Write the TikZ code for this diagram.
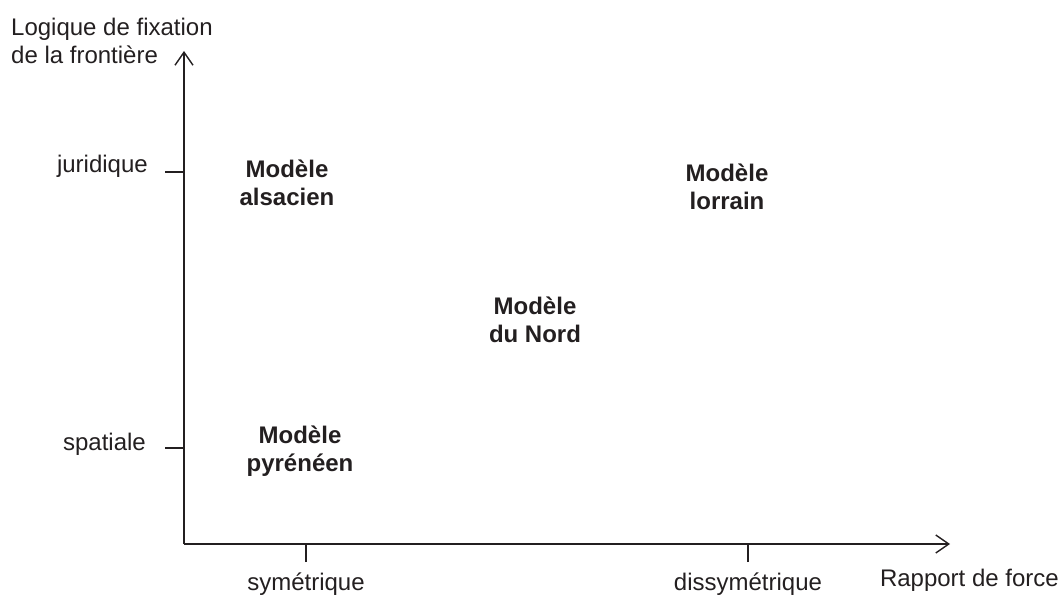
\documentclass[tikz,border=0pt]{standalone}
\usepackage{fontspec}
\setmainfont{Liberation Sans}
\usetikzlibrary{arrows.meta}
\definecolor{ink}{HTML}{231F20}
\begin{document}
\begin{tikzpicture}[x=1pt,y=-1pt,
  lbl/.style={font=\fontsize{24}{28}\selectfont, text=ink, inner sep=0pt},
  model/.style={font=\fontsize{24}{28}\selectfont\bfseries, text=ink, inner sep=0pt, align=center},
  axisline/.style={draw=ink, line width=1.4pt, -{Straight Barb[length=13pt,width=18pt,line width=1.4pt]}},
  tickline/.style={draw=ink, line width=1.4pt}]
\useasboundingbox (0,0) rectangle (1062,601);
% axes
\coordinate (O) at (184,544);
\coordinate (ytip) at (184,51);
\coordinate (xtip) at (950,544);
\draw[axisline] (O) -- (ytip);
\draw[axisline] (O) -- (xtip);
% ticks
\coordinate (tjur) at (165,172);
\coordinate (tspa) at (165,448);
\coordinate (tsym) at (306,562);
\coordinate (tdis) at (748,562);
\draw[tickline] (tjur) -- (tjur -| O);
\draw[tickline] (tspa) -- (tspa -| O);
\draw[tickline] (tsym) -- (tsym |- O);
\draw[tickline] (tdis) -- (tdis |- O);
% axis labels
\node[lbl, anchor=north west, align=left] (ylab) at (11,17.5) {Logique de fixation\\de la frontière};
\node[lbl, anchor=base east] (jur) at (148,173) {juridique};
\node[lbl, anchor=base east] (spa) at (146,450) {spatiale};
\node[lbl, anchor=base] (sym) at (306,590) {symétrique};
\node[lbl, anchor=base] (dis) at (748,590) {dissymétrique};
\node[lbl, anchor=base east] (xlab) at (1059,586) {Rapport de force};
% models
\node[model] (als) at (287,182.5) {Modèle\\alsacien};
\node[model] (lor) at (727,187) {Modèle\\lorrain};
\node[model] (nord) at (535,320) {Modèle\\du Nord};
\node[model] (pyr) at (300,451) {Modèle\\pyrénéen};
\end{tikzpicture}
\end{document}
